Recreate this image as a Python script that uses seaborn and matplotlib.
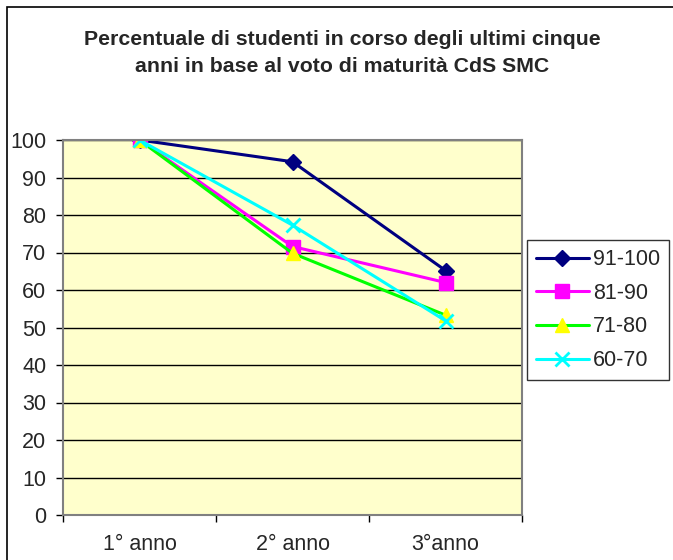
import pandas as pd
import matplotlib
matplotlib.use("Agg")
import matplotlib.pyplot as plt
import matplotlib.patches as patches
from matplotlib.ticker import FixedLocator, NullFormatter, FixedFormatter
import seaborn as sns

# data
anni = ["1° anno", "2° anno", "3°anno"]
fasce = ["91-100", "81-90", "71-80", "60-70"]
v_91_100 = [100, 94.2, 65.2]
v_81_90 = [100, 71.6, 62.0]
v_71_80 = [100, 69.8, 53.3]
v_60_70 = [100, 77.3, 51.8]

valori = [v_91_100, v_81_90, v_71_80, v_60_70]
colori = ["#000080", "#FF00FF", "#00FF00", "#00FFFF"]
facce = ["#000080", "#FF00FF", "#FFFF00", "#00FFFF"]
marcatori = ["D", "s", "^", "x"]
dimensioni = [8, 9.5, 10, 10]

sns.set_style("white")
plt.rcParams['font.family'] = ['Liberation Sans', 'DejaVu Sans']

fig = plt.figure(figsize=(6.73, 5.6), dpi=100)
ax = fig.add_axes([63 / 673, 45 / 560, 459 / 673, 375 / 560])
ax.set_facecolor("#FFFFCC")

for nome, vals, col, fc, mk, ms in zip(fasce, valori, colori, facce, marcatori, dimensioni):
    df = pd.DataFrame({"anno": range(len(anni)), "perc": vals})
    sns.lineplot(data=df, x="anno", y="perc", ax=ax, color=col, lw=2.2,
                 marker=mk, markersize=ms, markerfacecolor=fc, markeredgecolor=fc,
                 markeredgewidth=2 if mk == "x" else 1, label=nome)

ax.set_xlim(-0.5, 2.5)
ax.set_ylim(0, 100)
ax.set_yticks(range(0, 101, 10))
ax.yaxis.grid(True, color="black", lw=1)
ax.set_axisbelow(True)

# excel style: ticks on category boundaries, labels in the middle
ax.xaxis.set_major_locator(FixedLocator([-0.5, 0.5, 1.5, 2.5]))
ax.xaxis.set_major_formatter(NullFormatter())
ax.xaxis.set_minor_locator(FixedLocator(range(len(anni))))
ax.xaxis.set_minor_formatter(FixedFormatter(anni))
ax.tick_params(axis="x", which="major", direction="out", length=5, width=1, color="black", bottom=True)
ax.tick_params(axis="x", which="minor", length=0, labelsize=15.5, pad=14)
ax.tick_params(axis="y", direction="out", length=5, width=1, color="black", labelsize=15.5, pad=7, left=True)
ax.set_xlabel("")
ax.set_ylabel("")

for s in ["top", "right", "left", "bottom"]:
    ax.spines[s].set_color("#808080")
    ax.spines[s].set_linewidth(1.5)

leg = ax.legend(loc="upper left", bbox_to_anchor=(527 / 673, 1 - 240 / 560),
                bbox_transform=fig.transFigure, fontsize=15.5, frameon=True,
                fancybox=False, edgecolor="black", handlelength=2.45,
                labelspacing=0.59, borderpad=0.42, handletextpad=0.2, borderaxespad=0)
leg.get_frame().set_linewidth(1)

fig.text(342 / 673, 1 - 45 / 560, "Percentuale di studenti in corso degli ultimi cinque",
         ha="center", va="baseline", fontsize=15.3, fontweight="bold")
fig.text(342 / 673, 1 - 72 / 560, "anni in base al voto di maturità CdS SMC",
         ha="center", va="baseline", fontsize=15.3, fontweight="bold")

# outer chart frame (cut off at right and bottom)
fig.add_artist(patches.Rectangle((7 / 673, -0.1), 1.2, 1.1 - 7 / 560,
                                 transform=fig.transFigure, fill=False,
                                 edgecolor="black", lw=1.2))

fig.savefig("out.png", dpi=100)
